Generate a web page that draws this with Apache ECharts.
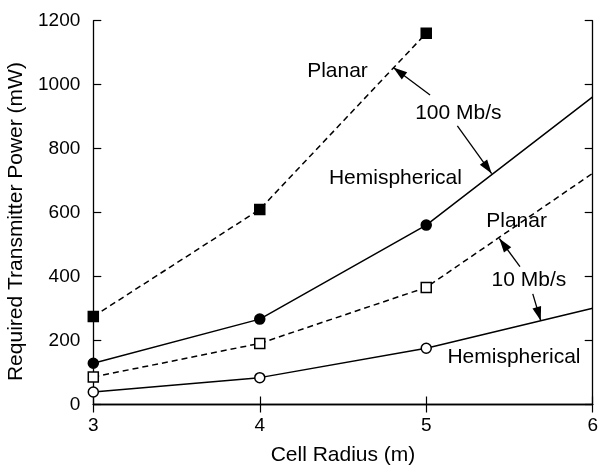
<!DOCTYPE html>
<html>
<head>
<meta charset="utf-8">
<script src="https://cdn.jsdelivr.net/npm/echarts@6/dist/echarts.min.js"></script>
<style>
  html, body { margin: 0; padding: 0; background: #fff; }
  #chart { width: 599px; height: 468px; }
</style>
</head>
<body>
<div id="chart"></div>
<script>
// Cell radius (m) on the x axis
const cellRadius = [3, 4, 5, 6];

// Required transmitter power (mW)
const planar100 = [275, 610, 1161];
const hemispherical100 = [129, 267, 561, 962];
const planar10 = [86, 191, 366, 723];
const hemispherical10 = [39, 84, 176, 301];

// Callout labels, in data units (x = radius, y = power)
const calloutText = ['Planar', '100 Mb/s', 'Hemispherical', 'Planar', '10 Mb/s', 'Hemispherical'];
const calloutX = [4.467, 5.193, 4.815, 5.543, 5.617, 5.527];
const calloutY = [1043, 911, 708, 574, 389, 148];

// Leader arrows: tail -> head, in data units
const arrowTail = [[5.023, 968], [5.187, 871], [5.563, 431], [5.640, 346]];
const arrowHead = [[4.802, 1054], [5.393, 722], [5.439, 519], [5.688, 262]];

const FONT = '"Liberation Sans", Arial, Helvetica, sans-serif';
const INK = '#000';

// The last point (radius 6) continues the curve without a marker.
function curve(values) {
  return values.map((v, i) => {
    const item = { value: [cellRadius[i], v] };
    if (i === 3) item.symbol = 'none';
    return item;
  });
}

function lineSeries(name, values, dashed, symbol, filled) {
  return {
    name: name,
    type: 'line',
    xAxisIndex: 0,
    yAxisIndex: 0,
    data: curve(values),
    symbol: symbol,
    symbolSize: 10,
    showAllSymbol: true,
    lineStyle: { color: INK, width: 1.5, type: dashed ? [6, 4] : 'solid' },
    itemStyle: { color: filled ? INK : '#fff', borderColor: INK, borderWidth: 1.5, opacity: 1 },
    z: 3,
    animation: false
  };
}

const tickInside = { show: true, inside: true, length: 8, lineStyle: { color: INK, width: 1.2 } };
const axisLineStyle = { show: true, lineStyle: { color: INK, width: 1.3 } };

const chart = echarts.init(document.getElementById('chart'), null, { renderer: 'canvas' });

chart.setOption({
  backgroundColor: '#fff',
  animation: false,
  grid: { left: 93.3, right: 6.3, top: 20.7, bottom: 63.5, containLabel: false, outerBoundsMode: 'none' },
  xAxis: [
    {
      type: 'value', position: 'bottom', min: 3, max: 6, interval: 1,
      name: 'Cell Radius (m)', nameLocation: 'middle', nameGap: 40,
      nameTextStyle: { fontFamily: FONT, fontSize: 21, color: INK },
      axisLine: axisLineStyle, axisTick: tickInside, splitLine: { show: false },
      axisLabel: { fontFamily: FONT, fontSize: 19, color: INK, margin: 12 }
    },
    {
      type: 'value', position: 'top', min: 3, max: 6, interval: 1,
      axisLine: axisLineStyle, axisTick: tickInside, splitLine: { show: false },
      axisLabel: { show: false }
    }
  ],
  yAxis: [
    {
      type: 'value', position: 'left', min: 0, max: 1200, interval: 200,
      name: 'Required Transmitter Power (mW)', nameLocation: 'middle', nameGap: 60,
      nameTextStyle: { fontFamily: FONT, fontSize: 21, color: INK, padding: [0, 18, 0, 0] },
      axisLine: axisLineStyle, axisTick: tickInside, splitLine: { show: false },
      axisLabel: { fontFamily: FONT, fontSize: 19, color: INK, margin: 13, formatter: v => String(v) }
    },
    {
      type: 'value', position: 'right', min: 0, max: 1200, interval: 200,
      axisLine: axisLineStyle, axisTick: tickInside, splitLine: { show: false },
      axisLabel: { show: false }
    }
  ],
  series: [
    lineSeries('Planar 100 Mb/s', planar100, true, 'rect', true),
    lineSeries('Hemispherical 100 Mb/s', hemispherical100, false, 'circle', true),
    lineSeries('Planar 10 Mb/s', planar10, true, 'rect', false),
    lineSeries('Hemispherical 10 Mb/s', hemispherical10, false, 'circle', false),
    {
      name: 'Callouts',
      type: 'scatter',
      xAxisIndex: 0,
      yAxisIndex: 0,
      symbolSize: 1,
      itemStyle: { color: 'rgba(255,255,255,0)', opacity: 1 },
      data: calloutText.map((t, i) => [calloutX[i], calloutY[i], t]),
      label: {
        show: true,
        position: 'inside',
        formatter: p => p.data[2],
        fontFamily: FONT,
        fontSize: 21,
        color: INK,
        opacity: 1
      },
      markLine: {
        silent: true,
        animation: false,
        symbol: ['none', 'triangle'],
        label: { show: false },
        lineStyle: { color: INK, width: 1.3, type: 'solid', opacity: 1 },
        itemStyle: { color: INK },
        // arrowhead tip sits on the end coordinate
        data: arrowTail.map((t, i) => [
          { coord: t },
          { coord: arrowHead[i], symbolSize: [9, 14], symbolOffset: [0, 7] }
        ])
      },
      z: 4,
      animation: false
    }
  ]
});
</script>
</body>
</html>
